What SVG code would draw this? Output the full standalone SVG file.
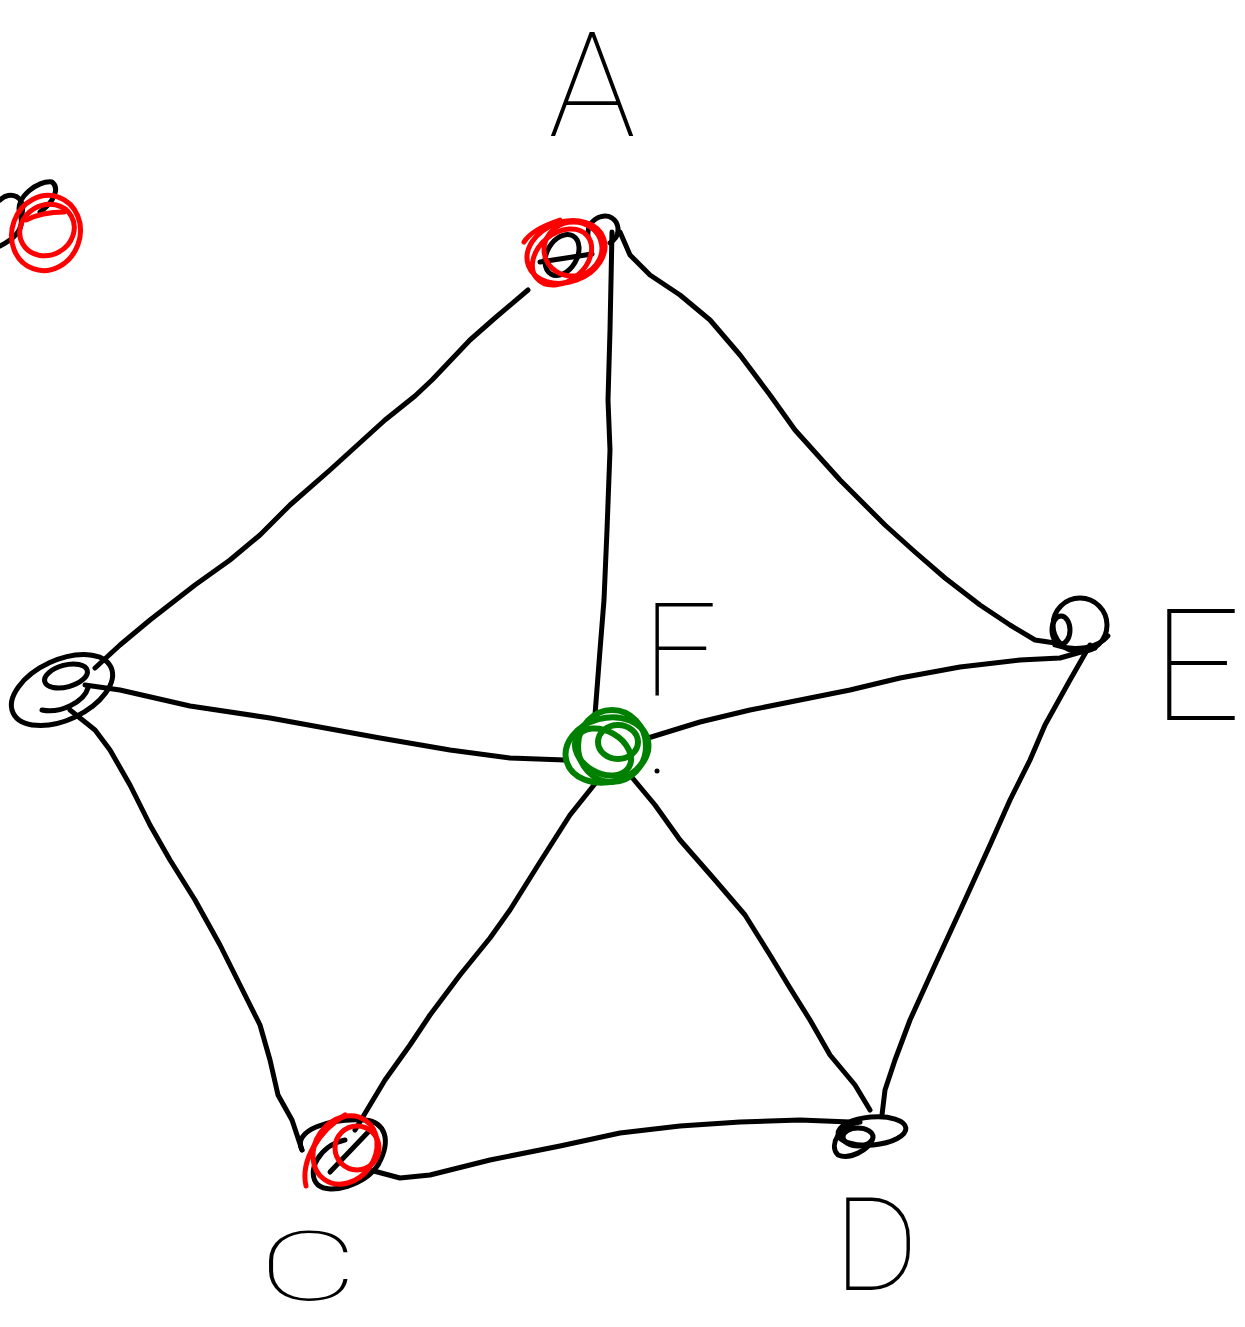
<svg xmlns="http://www.w3.org/2000/svg" width="1245" height="1327" viewBox="0 0 1245 1327">
<style>
.ink{fill:none;stroke:#000;stroke-width:5;stroke-linecap:round;stroke-linejoin:round}
.red{fill:none;stroke:#ff0000;stroke-width:5;stroke-linecap:round;stroke-linejoin:round}
.grn{fill:none;stroke:#008000;stroke-width:6;stroke-linecap:round;stroke-linejoin:round}
.lbl{font-family:Roboto,Inter,"DejaVu Sans",sans-serif;font-weight:100;fill:#000}
</style>
<rect width="1245" height="1327" fill="#fff"/>
<g id="connectors" class="ink">
<polyline points="528,290 495,318 470,340 432,380 415,396 385,420 330,470 290,505 260,535 230,560 195,585 150,620 120,645 95,668"/>
<polyline points="612,232 610,330 608,400 610,450 607,530 604,600 600,650 595,715"/>
<polyline points="620,232 630,255 650,275 680,295 710,320 740,355 770,395 795,430 840,480 885,525 915,552 945,578 980,605 1010,625 1035,640 1055,643"/>
<polyline points="85,685 120,690 190,706 270,718 380,738 450,750 510,758 565,760"/>
<polyline points="648,738 700,722 750,710 800,700 850,690 900,678 960,667 1020,660 1060,658 1095,648"/>
<polyline points="70,710 95,730 110,750 130,785 150,825 170,860 195,900 220,945 240,985 260,1025 270,1060 278,1095 292,1120 302,1150"/>
<polyline points="598,780 570,815 540,862 510,910 490,938 460,975 430,1015 410,1045 385,1080 370,1105 355,1130"/>
<polyline points="630,775 655,805 680,840 715,880 745,915 770,955 790,988 810,1020 830,1055 855,1085 870,1110"/>
<polyline points="1090,645 1070,680 1045,725 1030,760 1010,800 990,845 965,900 935,965 910,1020 895,1060 885,1090 882,1115"/>
<polyline points="370,1170 400,1178 430,1175 490,1160 560,1146 620,1133 680,1126 740,1122 800,1120 850,1122"/>
</g>
<g id="node-A">
<path class="ink" d="M588,236 C586,215 615,208 618,228 C619,236 614,240 610,243"/>
<ellipse class="ink" cx="562" cy="255" rx="15" ry="22" transform="rotate(30 562 255)"/>
<path class="ink" d="M540,262 L592,254"/>
<ellipse class="red" cx="566" cy="252" rx="40" ry="30" transform="rotate(-20 566 252)"/>
<ellipse class="red" cx="562" cy="257" rx="33" ry="24" transform="rotate(-40 562 257)"/>
<ellipse class="red" cx="573" cy="249" rx="29" ry="27" transform="rotate(-10 573 249)"/>
<path class="red" d="M524,242 C530,232 545,225 560,220"/>
<text class="lbl" x="592" y="136" font-size="146" text-anchor="middle">A</text>
</g>
<g id="node-B">
<path class="ink" d="M0,246 C12,240 26,230 20,214 C14,198 38,180 52,182 C60,188 54,202 40,212"/>
<path class="ink" d="M0,200 C10,190 26,196 22,214"/>
<ellipse class="red" cx="46" cy="233" rx="34" ry="38" transform="rotate(20 46 233)"/>
<ellipse class="red" cx="47" cy="230" rx="28" ry="25" transform="rotate(-30 47 230)"/>
<path class="red" d="M26,220 C38,214 52,212 64,212"/>
</g>
<g id="node-G">
<ellipse class="ink" cx="62" cy="690" rx="54" ry="30" transform="rotate(-25 62 690)"/>
<ellipse class="ink" cx="66" cy="676" rx="22" ry="11" transform="rotate(-15 66 676)"/>
<path class="ink" d="M42,710 C60,714 84,702 88,688"/>
</g>
<g id="node-F">
<ellipse class="grn" cx="607" cy="750" rx="42" ry="32" transform="rotate(-15 607 750)"/>
<ellipse class="grn" cx="612" cy="746" rx="34" ry="36"/>
<ellipse class="grn" cx="603" cy="752" rx="30" ry="21" transform="rotate(30 603 752)"/>
<ellipse class="grn" cx="618" cy="742" rx="20" ry="17"/>
<circle cx="657" cy="771" r="2.5" fill="#000"/>
<text class="lbl" x="680" y="695" font-size="130" text-anchor="middle">F</text>
</g>
<g id="node-E">
<circle class="ink" cx="1080" cy="625" r="27"/>
<ellipse class="ink" cx="1061" cy="630" rx="9" ry="14"/>
<path class="ink" d="M1055,645 C1075,652 1098,648 1108,636"/>
<text class="lbl" x="1152" y="720" font-size="156">E</text>
</g>
<g id="node-C">
<path class="ink" d="M302,1150 C292,1130 330,1118 365,1120 C385,1122 392,1140 378,1165 C365,1185 330,1195 318,1185 C305,1172 320,1145 345,1140"/>
<path class="ink" d="M330,1172 L372,1128"/>
<ellipse class="red" cx="345" cy="1150" rx="30" ry="36" transform="rotate(35 345 1150)"/>
<ellipse class="red" cx="357" cy="1148" rx="22" ry="22"/>
<path class="red" d="M306,1186 C300,1160 320,1130 345,1115"/>
<text class="lbl" font-size="96" text-anchor="middle" transform="translate(308 1300) scale(1.6 1)">C</text>
</g>
<g id="node-D">
<ellipse class="ink" cx="872" cy="1131" rx="34" ry="14" transform="rotate(-5 872 1131)"/>
<ellipse class="ink" cx="858" cy="1137" rx="15" ry="9"/>
<path class="ink" d="M860,1122 C840,1125 828,1145 838,1155 C850,1160 868,1150 872,1140"/>
<text class="lbl" x="876" y="1290" font-size="130" text-anchor="middle">D</text>
</g>
</svg>
